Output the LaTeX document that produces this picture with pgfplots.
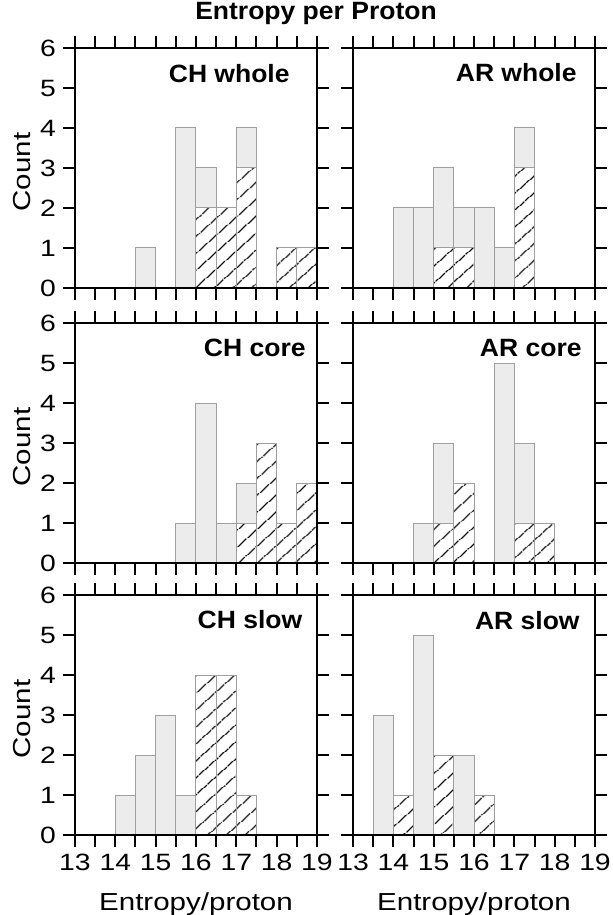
\documentclass[border=0pt]{standalone}
\usepackage{fontspec}
\setmainfont{Liberation Sans}[FakeStretch=1.2]
\newfontfamily\labelbf{Liberation Sans}[FakeStretch=1.06]
\usepackage{pgfplots}
\pgfplotsset{compat=1.18}
\usetikzlibrary{patterns.meta}

\pgfplotsset{
  hist/.style={
    scale only axis, width=121pt, height=120pt,
    anchor=north west,
    xmin=13, xmax=19, ymin=0, ymax=6,
    xtick={13,...,19}, minor xtick={13.5,14.5,...,18.5},
    ytick={0,...,6},
    tick align=outside,
    major tick length=6pt, minor tick length=6pt,
    every tick/.style={black, line width=1pt},
    axis line style={line width=1.3pt},
    axis on top,
    tick label style={font=\fontsize{11.8}{13}\selectfont},
    /pgf/number format/assume math mode=true,
    ybar, bar width=0.5, bar shift=0pt,
  },
  allbars/.style={fill=gray!15, draw=gray!75, line width=0.5pt},
  subbars/.style={fill=white, draw=gray!75, line width=0.5pt,
    postaction={pattern={Lines[angle=42,distance=6.5pt,line width=0.7pt]}, pattern color=black}},
}

\begin{document}
\begin{tikzpicture}
\useasboundingbox (0,0) rectangle (306pt,-457.5pt);

% CH whole
\begin{axis}[hist, at={(37.5pt,-24pt)}, xticklabels={}]
\addplot[allbars] coordinates {(14.75,1) (15.75,4) (16.25,3) (16.75,2) (17.25,4) (18.25,1) (18.75,1)};
\addplot[subbars] coordinates {(16.25,2) (16.75,2) (17.25,3) (18.25,1) (18.75,1)};
\end{axis}

% AR whole
\begin{axis}[hist, at={(176.5pt,-24pt)}, xticklabels={}, yticklabels={}]
\addplot[allbars] coordinates {(14.25,2) (14.75,2) (15.25,3) (15.75,2) (16.25,2) (16.75,1) (17.25,4)};
\addplot[subbars] coordinates {(15.25,1) (15.75,1) (17.25,3)};
\end{axis}

% CH core
\begin{axis}[hist, at={(37.5pt,-161.5pt)}, xticklabels={}]
\addplot[allbars] coordinates {(15.75,1) (16.25,4) (16.75,1) (17.25,2) (17.75,3) (18.25,1) (18.75,2)};
\addplot[subbars] coordinates {(17.25,1) (17.75,3) (18.25,1) (18.75,2)};
\end{axis}

% AR core
\begin{axis}[hist, at={(176.5pt,-161.5pt)}, xticklabels={}, yticklabels={}]
\addplot[allbars] coordinates {(14.75,1) (15.25,3) (15.75,2) (16.75,5) (17.25,3) (17.75,1)};
\addplot[subbars] coordinates {(15.25,1) (15.75,2) (17.25,1) (17.75,1)};
\end{axis}

% CH slow
\begin{axis}[hist, at={(37.5pt,-297.5pt)}]
\addplot[allbars] coordinates {(14.25,1) (14.75,2) (15.25,3) (15.75,1) (16.25,4) (16.75,4) (17.25,1)};
\addplot[subbars] coordinates {(16.25,4) (16.75,4) (17.25,1)};
\end{axis}

% AR slow
\begin{axis}[hist, at={(176.5pt,-297.5pt)}, yticklabels={}]
\addplot[allbars] coordinates {(13.75,3) (14.25,1) (14.75,5) (15.25,2) (15.75,2) (16.25,1)};
\addplot[subbars] coordinates {(14.25,1) (15.25,2) (16.25,1)};
\end{axis}

% panel names
\begin{scope}[every node/.style={anchor=base east, font=\labelbf\bfseries\fontsize{12.5}{14}\selectfont, inner sep=0pt}]
\node at (145pt,-41.3pt) {CH whole};
\node at (288.5pt,-40.6pt) {AR whole};
\node at (153pt,-178.3pt) {CH core};
\node at (291pt,-178.3pt) {AR core};
\node at (151.3pt,-314pt) {CH slow};
\node at (290pt,-314.5pt) {AR slow};
\end{scope}

% title and axis labels
\node[anchor=base, inner sep=0pt, font=\labelbf\bfseries\fontsize{12.5}{14}\selectfont] at (158pt,-10pt) {Entropy per Proton};
\begin{scope}[every node/.style={inner sep=0pt, font=\fontsize{12.3}{14}\selectfont}]
\node[rotate=90] at (11pt,-86pt) {Count};
\node[rotate=90] at (11pt,-223.5pt) {Count};
\node[rotate=90] at (11pt,-359.5pt) {Count};
\node[anchor=base] at (98pt,-455pt) {Entropy/proton};
\node[anchor=base] at (237pt,-455pt) {Entropy/proton};
\end{scope}
\end{tikzpicture}
\end{document}
